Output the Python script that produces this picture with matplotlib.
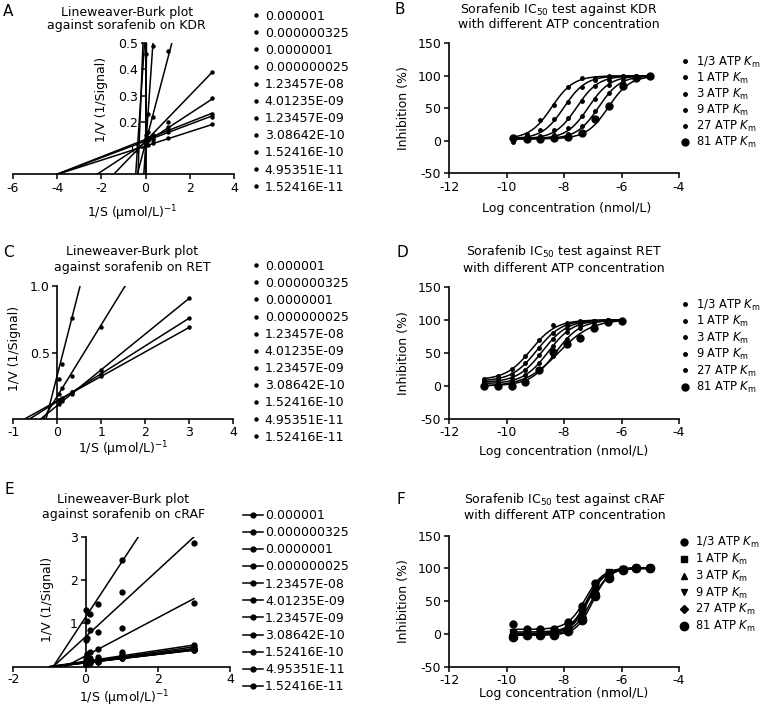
import numpy as np
import matplotlib
matplotlib.use('Agg')
import matplotlib.pyplot as plt
from matplotlib.lines import Line2D

plt.rcParams['font.family'] = 'DejaVu Sans'
plt.rcParams['font.size'] = 9
plt.rcParams['axes.unicode_minus'] = False
plt.rcParams['mathtext.default'] = 'regular'

# ---------------- data ----------------
lb_labels = ['0.000001', '0.000000325', '0.0000001', '0.000000025', '1.23457E-08',
             '4.01235E-09', '1.23457E-09', '3.08642E-10', '1.52416E-10',
             '4.95351E-11', '1.52416E-11']

# Lineweaver-Burk, KDR  (1/S values, fitted slope / intercept, 1/V points)
kdr_inv_s = [0.037, 0.111, 0.333, 1, 3]
kdr_slope = [1.25, 11.0, 1.2, 0.32, 0.0872, 0.055, 0.0331, 0.0317, 0.0271, 2.2, 25.0]
kdr_icpt = [0.56, 0.05, 0.10, 0.12, 0.126, 0.121, 0.133, 0.127, 0.108, 0.76, 0.02]
kdr_y = [[0.61, 0.70, 0.98, 1.81, 4.31],
         [0.46, 1.27, 3.71, 11.1, 33.0],
         [0.15, 0.23, 0.49, 1.30, 3.70],
         [0.13, 0.16, 0.22, 0.47, 1.08],
         [0.13, 0.14, 0.15, 0.20, 0.39],
         [0.12, 0.13, 0.14, 0.18, 0.29],
         [0.14, 0.13, 0.15, 0.17, 0.23],
         [0.13, 0.14, 0.13, 0.16, 0.22],
         [0.11, 0.11, 0.12, 0.14, 0.19],
         [0.84, 1.00, 1.49, 2.96, 7.36],
         [0.95, 2.80, 8.30, 25.0, 75.0]]

# Lineweaver-Burk, RET (only five series have data)
ret_inv_s = [0.037, 0.111, 0.333, 1, 3]
ret_slope = [1.3, 0.54, 0.27, 0.21, 0.185, 1, 1, 1, 1, 1, 1]
ret_icpt = [0.33, 0.17, 0.10, 0.13, 0.135, 0, 0, 0, 0, 0, 0]
ret_y = [[0.30, 0.41, 0.76, 1.63, 4.20],
         [0.19, 0.23, 0.32, 0.69, 1.79],
         [0.11, 0.13, 0.19, 0.37, 0.91],
         [0.14, 0.15, 0.20, 0.34, 0.76],
         [0.14, 0.16, 0.20, 0.32, 0.69],
         [], [], [], [], [], []]

# Lineweaver-Burk, cRAF
craf_inv_s = [0.012, 0.037, 0.111, 0.333, 1, 3]
craf_slope = [1.27, 0.768, 0.44, 0.125, 0.116, 0.105, 0.10, 0.098, 0.095, 0.105, 0.10]
craf_icpt = [1.14, 0.69, 0.25, 0.125, 0.11, 0.105, 0.09, 0.09, 0.095, 0.09, 0.10]
craf_y = [[1.30, 1.06, 1.21, 1.44, 2.46, 4.95],
          [0.62, 0.66, 0.85, 0.81, 1.72, 2.86],
          [0.20, 0.28, 0.35, 0.40, 0.89, 1.48],
          [0.13, 0.30, 0.15, 0.22, 0.33, 0.50],
          [0.10, 0.12, 0.20, 0.18, 0.30, 0.46],
          [0.08, 0.12, 0.14, 0.15, 0.25, 0.42],
          [0.06, 0.09, 0.10, 0.12, 0.22, 0.39],
          [0.05, 0.08, 0.11, 0.10, 0.19, 0.38],
          [0.07, 0.10, 0.09, 0.13, 0.21, 0.40],
          [0.09, 0.11, 0.12, 0.14, 0.24, 0.41],
          [0.10, 0.09, 0.13, 0.14, 0.20, 0.39]]

atp_labels = [r'1/3 ATP $\mathit{K}_m$', r'1 ATP $\mathit{K}_m$', r'3 ATP $\mathit{K}_m$',
              r'9 ATP $\mathit{K}_m$', r'27 ATP $\mathit{K}_m$', r'81 ATP $\mathit{K}_m$']

# IC50 curves: log concentration, inhibition (%), fit (bottom, top, logIC50, hill)
kdr_logc = [-9.77, -9.29, -8.82, -8.34, -7.86, -7.39, -6.91, -6.43, -5.95, -5.48, -5.0]
kdr_inh = [[5, 11, 32, 55, 83, 97, 97, 99, 100, 100, 100],
           [6, 8, 16, 33, 59, 83, 93, 98, 99, 100, 100],
           [2, 5, 8, 17, 35, 61, 84, 93, 98, 99, 100],
           [-2, 4, 5, 9, 19, 38, 65, 86, 94, 98, 99],
           [1, 3, 4, 6, 11, 23, 46, 73, 89, 96, 98],
           [4, 3, 2, 4, 6, 12, 33, 53, 84, 96, 99]]
kdr_fit = [(3, 100, -8.43, 1.15), (3, 100, -8.0, 1.15), (3, 100, -7.56, 1.15),
           (3, 100, -7.15, 1.15), (3, 100, -6.8, 1.15), (3, 100, -6.46, 1.15)]

ret_logc = [-10.77, -10.29, -9.82, -9.34, -8.86, -8.39, -7.91, -7.43, -6.95, -6.48, -6.0]
ret_inh = [[11, 15, 25, 45, 69, 92, 95, 98, 99, 100, 100],
           [8, 10, 18, 34, 58, 80, 92, 97, 99, 100, 100],
           [6, 7, 12, 24, 47, 71, 88, 96, 98, 100, 100],
           [4, 3, 8, 17, 35, 60, 82, 93, 98, 99, 100],
           [0, 1, 3, 8, 22, 45, 71, 88, 96, 99, 100],
           [-1, 0, 0, 6, 24, 52, 63, 72, 87, 97, 99]]
ret_fit = [(9, 100, -9.15, 1.0), (7, 100, -8.95, 1.0), (5, 100, -8.75, 1.0),
           (3, 100, -8.55, 1.0), (0, 100, -8.3, 1.0), (-1, 101, -8.2, 0.75)]

craf_logc = [-9.77, -9.29, -8.82, -8.34, -7.86, -7.39, -6.91, -6.43, -5.95, -5.48, -5.0]
craf_inh = [[15, 7, 7, 8, 18, 42, 78, 93, 99, 100, 101],
            [3, 3, 3, 5, 12, 36, 74, 94, 99, 100, 100],
            [1, 1, 1, 3, 9, 31, 71, 93, 99, 101, 101],
            [0, 0, 1, 2, 11, 35, 72, 92, 98, 100, 100],
            [-1, -1, -1, 1, 8, 26, 62, 89, 98, 100, 101],
            [-4, -2, -2, -1, 5, 21, 58, 86, 98, 100, 101]]
craf_fit = [(7, 101, -7.25, 1.4), (3, 100, -7.2, 1.5), (1, 101, -7.15, 1.5),
            (0, 100, -7.2, 1.4), (-1, 101, -7.05, 1.4), (-2, 101, -7.0, 1.5)]

# ---------------- figure ----------------
W, H = 769, 711
fig = plt.figure(figsize=(W / 100, H / 100), dpi=100)


def box(l, t, r, b):
    return [l / W, 1 - b / H, (r - l) / W, (b - t) / H]


def ftext(x, y, s, **kw):
    fig.text(x / W, 1 - y / H, s, ha='center', va='center', **kw)


def style(ax):
    ax.spines[['top', 'right']].set_visible(False)
    for s in ('left', 'bottom'):
        ax.spines[s].set_linewidth(1.2)
    ax.tick_params(direction='out', length=3.5, width=1.1, pad=2, labelsize=9)


def lb_panel(bx, inv_s, slopes, icpts, ys, xlim, ylim, ms):
    ax = fig.add_axes(bx)
    for m, b, y in zip(slopes, icpts, ys):
        if len(y) == 0:
            continue
        xl = np.array([-b / m, inv_s[-1]])
        ax.plot(xl, m * xl + b, color='k', lw=1.1)
        ax.plot(inv_s, y, ls='none', marker='o', ms=ms, color='k')
    ax.set_xlim(xlim)
    ax.set_ylim(ylim)
    style(ax)
    ax.spines['left'].set_position(('data', 0))
    ax.set_ylabel('1/V (1/Signal)')
    ax.set_xlabel(r'1/S (μmol/L)$^{-1}$')
    return ax


def ic50_panel(bx, logc, inh, fits, markers, sizes):
    ax = fig.add_axes(bx)
    xx = np.linspace(logc[0], logc[-1], 200)
    for y, (bot, top, ic, h), mk, ms in zip(inh, fits, markers, sizes):
        ax.plot(xx, bot + (top - bot) / (1 + 10 ** ((ic - xx) * h)), color='k', lw=1.1)
        ax.plot(logc, y, ls='none', marker=mk, ms=ms, color='k')
    ax.set_xlim(-12, -4)
    ax.set_ylim(-50, 150)
    ax.set_xticks([-12, -10, -8, -6, -4])
    ax.set_yticks([-50, 0, 50, 100, 150])
    style(ax)
    ax.set_ylabel('Inhibition (%)')
    ax.set_xlabel('Log concentration (nmol/L)')
    ax.yaxis.set_label_coords(-0.17, 0.5)
    return ax


def legend(handles, labels, x, y, hl, htp, ls, fs=9):
    fig.legend(handles, labels, loc='upper left', bbox_to_anchor=(x / W, 1 - y / H),
               frameon=False, borderpad=0, borderaxespad=0, handlelength=hl,
               handletextpad=htp, labelspacing=ls, fontsize=fs)


# ---- A: KDR Lineweaver-Burk ----
axA = lb_panel(box(13, 43, 234, 174.3), kdr_inv_s, kdr_slope, kdr_icpt, kdr_y,
               (-6, 4), (0, 0.5), 2.2)
axA.set_xticks([-6, -4, -2, 0, 2, 4])
axA.set_yticks([0.1, 0.2, 0.3, 0.4, 0.5])
axA.set_yticklabels(['0', '0.2', '0.3', '0.4', '0.5'])
axA.yaxis.set_label_coords(0.43, 0.57)
axA.xaxis.set_label_coords(0.54, -0.22)

# ---- C: RET Lineweaver-Burk ----
axC = lb_panel(box(13.3, 286.3, 233.3, 418.7), ret_inv_s, ret_slope, ret_icpt, ret_y,
               (-1, 4), (0, 1.0), 2.2)
axC.set_xticks([-1, 0, 1, 2, 3, 4])
axC.set_yticks([0.5, 1.0])
axC.set_yticklabels(['0.5', '1.0'])
axC.yaxis.set_label_coords(0.035, 0.53)
axC.xaxis.set_label_coords(0.5, -0.16)

# ---- E: cRAF Lineweaver-Burk ----
axE = lb_panel(box(13.3, 536.7, 230, 666.7), craf_inv_s, craf_slope, craf_icpt, craf_y,
               (-2, 4), (0, 3), 3.5)
axE.set_xticks([-2, 0, 2, 4])
axE.set_yticks([1, 2, 3])
axE.tick_params(axis='x', pad=1)
axE.yaxis.set_label_coords(0.19, 0.52)
axE.xaxis.set_label_coords(0.51, -0.165)

dot = [Line2D([], [], ls='none', marker='o', ms=2.2, color='k') for _ in lb_labels]
legend(dot, lb_labels, 253.5, 9.5, 0.4, 0.5, 0.33)
legend(dot, lb_labels, 253.5, 259.5, 0.4, 0.5, 0.33)
dline = [Line2D([], [], lw=1.1, marker='o', ms=3.5, color='k') for _ in lb_labels]
legend(dline, lb_labels, 243, 509, 1.6, 0.16, 0.33)

# ---- B / D / F: IC50 curves ----
small = ['o'] * 6
small_sz = [2.5, 2.5, 2.5, 2.5, 2.5, 5]
axB = ic50_panel(box(449, 43.3, 679, 173.3), kdr_logc, kdr_inh, kdr_fit, small, small_sz)
axB.xaxis.set_label_coords(0.513, -0.22)
axD = ic50_panel(box(449, 287, 679, 418.7), ret_logc, ret_inh, ret_fit, small, small_sz)
axD.xaxis.set_label_coords(0.5, -0.2)
f_mk = ['o', 's', '^', 'v', 'D', 'o']
f_sz = [5, 4.5, 5, 5, 4.5, 6]
axF = ic50_panel(box(449, 535.7, 679, 666.7), craf_logc, craf_inh, craf_fit, f_mk, f_sz)
axF.xaxis.set_label_coords(0.5, -0.155)

hB = [Line2D([], [], ls='none', marker='o', ms=s, color='k') for s in small_sz]
legend(hB, atp_labels, 683, 54.5, 0.4, 0.75, 0.08, 8.3)
legend(hB, atp_labels, 683, 297.5, 0.4, 0.75, 0.12, 8.3)
hF = [Line2D([], [], ls='none', marker=m, ms=s, color='k') for m, s in zip(f_mk, f_sz)]
legend(hF, atp_labels, 680.5, 535, 0.6, 0.65, 0.15, 8.3)

# ---- titles and panel letters ----
ftext(126.7, 12.7, 'Lineweaver-Burk plot')
ftext(126.7, 26, 'against sorafenib on KDR')
ftext(132.3, 252, 'Lineweaver-Burk plot')
ftext(132.3, 267, 'against sorafenib on RET')
ftext(123.3, 499, 'Lineweaver-Burk plot')
ftext(123.3, 514.7, 'against sorafenib on cRAF')
ftext(559, 10, r'Sorafenib IC$_{50}$ test against KDR')
ftext(559, 25, 'with different ATP concentration')
ftext(564, 252, r'Sorafenib IC$_{50}$ test against RET')
ftext(564, 268.7, 'with different ATP concentration')
ftext(564.7, 499, r'Sorafenib IC$_{50}$ test against cRAF')
ftext(564.7, 515.7, 'with different ATP concentration')

for lt, x, y in [('A', 8, 12), ('B', 400, 10), ('C', 8, 253), ('D', 402, 253),
                 ('E', 9, 490), ('F', 401, 500)]:
    ftext(x, y, lt, fontsize=11)

fig.savefig('out.png', dpi=100)
